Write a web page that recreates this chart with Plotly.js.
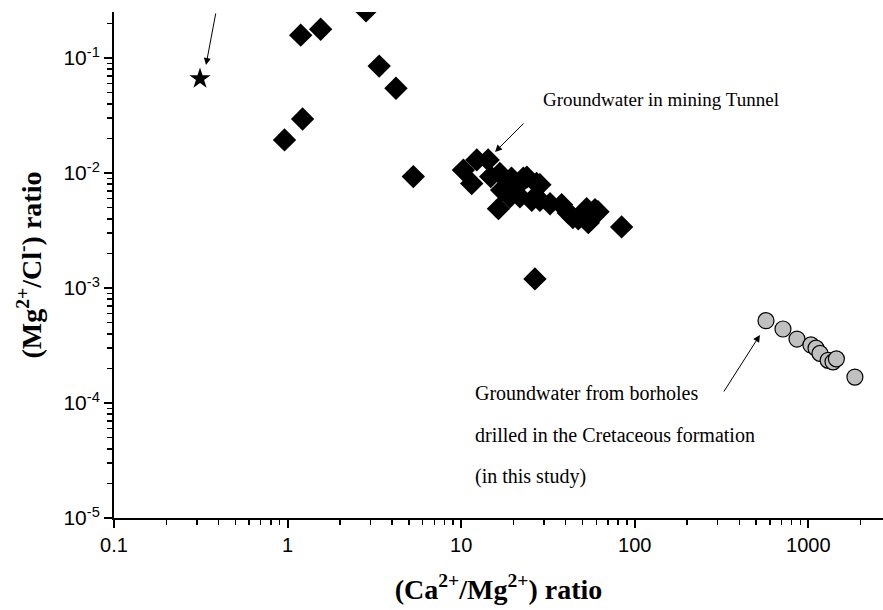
<!DOCTYPE html>
<html>
<head>
<meta charset="utf-8">
<script src="https://cdn.plot.ly/plotly-3.0.1.min.js"></script>
<style>html,body{margin:0;padding:0;background:#fff;}#chart{width:883px;height:610px;}</style>
</head>
<body>
<div id="chart"></div>
<script>
// Reference seawater-like point (star)
const starX = [0.313];
const starY = [0.066];

// Groundwater in mining tunnel (diamonds)
const tunnelX = [0.96, 1.22, 1.19, 1.55, 2.83, 3.37, 4.21, 5.3, 26.6,
  10.3, 12.3, 14.3, 11.5, 16.7, 19.5, 22.8, 17.1, 19.1, 21.8, 27.2, 25.5, 28.4,
  32.5, 37.9, 41.4, 47.3, 52.8, 59, 54, 16.4, 84, 23.9, 28.4, 44, 61.4, 14.8, 20.8];
const tunnelY = [0.0194, 0.0295, 0.158, 0.178, 0.257, 0.085, 0.0546, 0.0093, 0.0012,
  0.0106, 0.0130, 0.0130, 0.0081, 0.0099, 0.0090, 0.0090, 0.0071, 0.0062, 0.0062, 0.0081, 0.0058, 0.0058,
  0.0054, 0.0053, 0.0045, 0.0040, 0.0049, 0.0048, 0.0037, 0.0049, 0.0034, 0.0092, 0.0079, 0.0041, 0.0046, 0.0093, 0.0076];

// Groundwater from boreholes in Cretaceous formation (circles)
const boreX = [570, 714, 860, 1035, 1107, 1167, 1300, 1387, 1450, 1854];
const boreY = [0.00052, 0.00044, 0.00036, 0.00032, 0.00030, 0.00027, 0.000235, 0.000228, 0.000242, 0.000168];

// Tick labels
const xTickVals = [0.1, 1, 10, 100, 1000];
const xTickText = ['0.1', '1', '10', '100', '1000'];
const yTickVals = [1e-5, 1e-4, 1e-3, 1e-2, 1e-1];
const yTickText = ['10<sup>-5</sup>', '10<sup>-4</sup>', '10<sup>-3</sup>', '10<sup>-2</sup>', '10<sup>-1</sup>'];

function minorVals(lo, hi) {
  const out = [];
  for (let e = lo; e <= hi; e++) {
    for (let k = 2; k <= 9; k++) out.push(k * Math.pow(10, e));
  }
  return out;
}

const traces = [
  {x: starX, y: starY, type: 'scatter', mode: 'markers',
   marker: {symbol: 'star', size: 16, color: 'black', line: {width: 0}}},
  {x: tunnelX, y: tunnelY, type: 'scatter', mode: 'markers',
   marker: {symbol: 'diamond', size: 18, color: 'black', line: {width: 0}}},
  {x: boreX, y: boreY, type: 'scatter', mode: 'markers',
   marker: {symbol: 'circle', size: 16, color: '#c0c0c0', line: {width: 1.2, color: 'black'}}}
];

const serif = 'Liberation Serif, Times New Roman, serif';
const sans = 'Liberation Sans, Arial, sans-serif';

const layout = {
  width: 883, height: 610,
  margin: {l: 114, r: 0, t: 12, b: 92},
  paper_bgcolor: 'white', plot_bgcolor: 'white',
  showlegend: false,
  xaxis: {
    type: 'log', range: [-1, 3.43],
    showline: true, linewidth: 2, linecolor: 'black',
    ticks: 'outside', ticklen: 8, tickwidth: 2, tickcolor: 'black',
    tickmode: 'array', tickvals: xTickVals, ticktext: xTickText,
    tickfont: {family: sans, size: 20, color: 'black'},
    showgrid: false, zeroline: false,
    minor: {tickmode: 'array', tickvals: minorVals(-1, 3), ticks: 'outside', ticklen: 5, tickwidth: 1.5, tickcolor: 'black', showgrid: false},
    title: {text: '<b>(Ca<sup>2+</sup>/Mg<sup>2+</sup>) ratio</b>', font: {family: serif, size: 28, color: 'black'}, standoff: 24}
  },
  yaxis: {
    type: 'log', range: [-5, -0.6],
    showline: true, linewidth: 2, linecolor: 'black',
    ticks: 'outside', ticklen: 8, tickwidth: 2, tickcolor: 'black',
    tickmode: 'array', tickvals: yTickVals, ticktext: yTickText,
    tickfont: {family: sans, size: 21, color: 'black'},
    showgrid: false, zeroline: false,
    minor: {tickmode: 'array', tickvals: minorVals(-5, -1), ticks: 'outside', ticklen: 5, tickwidth: 1.5, tickcolor: 'black', showgrid: false},
    title: {text: '<b>(Mg<sup>2+</sup>/Cl<sup>-</sup>) ratio</b>', font: {family: serif, size: 28, color: 'black'}, standoff: 14}
  },
  annotations: [
    {x: -0.47, y: -1.061, xref: 'x', yref: 'y', text: '', showarrow: true,
     arrowhead: 2, arrowsize: 1.4, arrowwidth: 1, arrowcolor: 'black', ax: 10, ay: -53},
    {x: 1.195, y: -1.817, xref: 'x', yref: 'y', text: '', showarrow: true,
     arrowhead: 2, arrowsize: 1.4, arrowwidth: 1, arrowcolor: 'black', ax: 30, ay: -30},
    {x: 2.721, y: -3.409, xref: 'x', yref: 'y', text: '', showarrow: true,
     arrowhead: 2, arrowsize: 1.4, arrowwidth: 1, arrowcolor: 'black', ax: -37, ay: 58},
    {x: 1.46, y: -1.365, xref: 'x', yref: 'y', text: 'Groundwater in mining Tunnel', showarrow: false,
     xanchor: 'left', yanchor: 'middle', font: {family: serif, size: 19, color: 'black'}},
    {x: 1.068, y: -3.913, xref: 'x', yref: 'y', text: 'Groundwater from borholes', showarrow: false,
     xanchor: 'left', yanchor: 'middle', font: {family: serif, size: 20, color: 'black'}},
    {x: 1.068, y: -4.278, xref: 'x', yref: 'y', text: 'drilled in the Cretaceous formation', showarrow: false,
     xanchor: 'left', yanchor: 'middle', font: {family: serif, size: 20, color: 'black'}},
    {x: 1.068, y: -4.643, xref: 'x', yref: 'y', text: '(in this study)', showarrow: false,
     xanchor: 'left', yanchor: 'middle', font: {family: serif, size: 20, color: 'black'}}
  ]
};

Plotly.newPlot('chart', traces, layout, {displayModeBar: false, staticPlot: true});
</script>
</body>
</html>
